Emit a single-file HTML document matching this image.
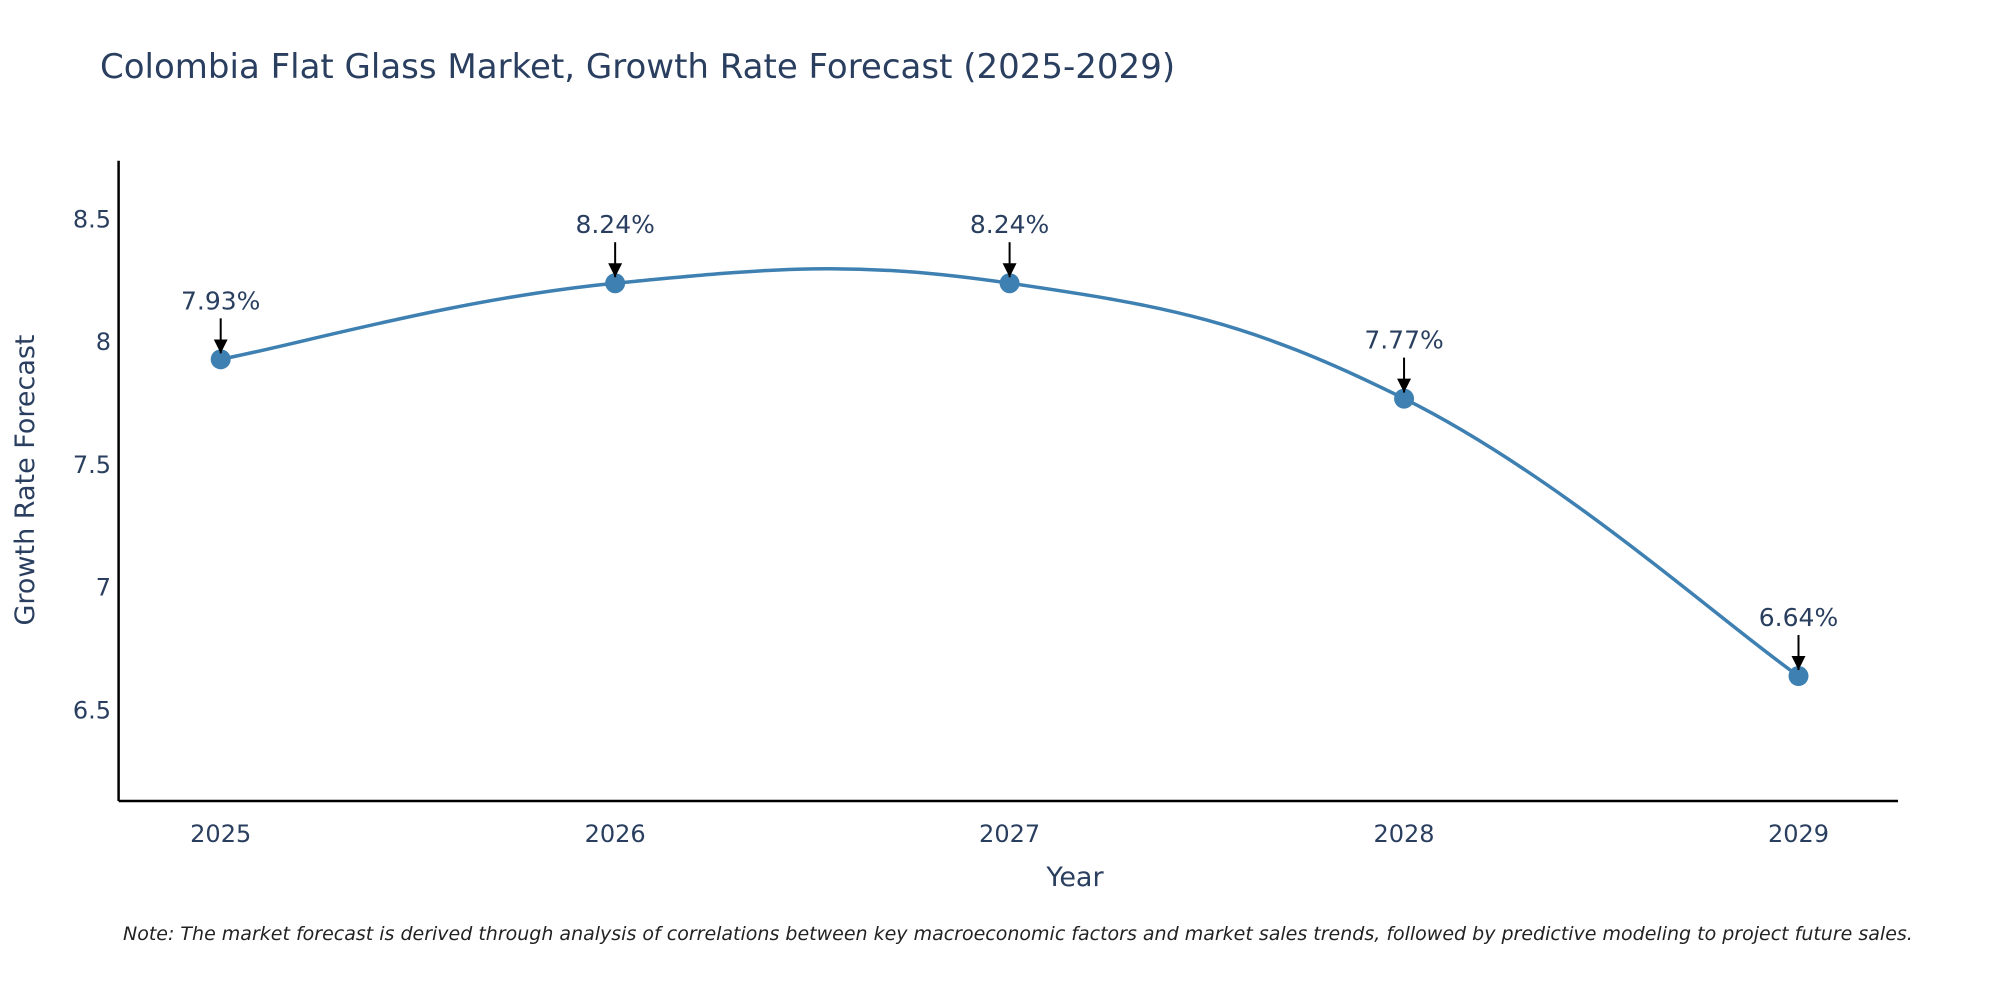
<!DOCTYPE html>
<html><head><meta charset="utf-8"><style>
html,body{margin:0;padding:0;background:#fff;}
svg{display:block;font-family:"DejaVu Sans","Liberation Sans",sans-serif;}
</style></head><body>
<svg id="chart" width="2000" height="1000">
<text x="100" y="78" font-size="34" fill="#2a3f5f">Colombia Flat Glass Market, Growth Rate Forecast (2025-2029)</text>
<g id="axes"></g>
<g id="series"></g>
<text x="1075" y="886" font-size="27" fill="#2a3f5f" text-anchor="middle">Year</text>
<text transform="translate(34,480) rotate(-90)" font-size="27" fill="#2a3f5f" text-anchor="middle">Growth Rate Forecast</text>
<text x="123" y="940" font-size="19" font-style="italic" fill="#222">Note: The market forecast is derived through analysis of correlations between key macroeconomic factors and market sales trends, followed by predictive modeling to project future sales.</text>
</svg>
<script>
const years = [2025, 2026, 2027, 2028, 2029];
const growth = [7.93, 8.24, 8.24, 7.77, 6.64];
const labels = ["7.93%", "8.24%", "8.24%", "7.77%", "6.64%"];
const yTicks = [6.5, 7, 7.5, 8, 8.5];
const yTickLabels = ["6.5", "7", "7.5", "8", "8.5"];

const NS = "http://www.w3.org/2000/svg";
const L = 118.6, R = 1898, T = 160.7, B = 801;
const yMin = 6.131, yMax = 8.739;
function xs(v){ return 220.7 + (v - 2025) * (1798.5 - 220.7) / 4; }
function ys(v){ return B - (v - yMin) / (yMax - yMin) * (B - T); }
function mk(tag, attrs, parent){ const e = document.createElementNS(NS, tag); for (const k in attrs) e.setAttribute(k, attrs[k]); parent.appendChild(e); return e; }

const axes = document.getElementById("axes");
const yl = mk("line", {x1:L, y1:T, x2:L, y2:B, stroke:"#000", "stroke-width":2.5}, axes);


const xl = mk("line", {x1:L, y1:B, x2:R, y2:B, stroke:"#000", "stroke-width":2.5}, axes);


yTicks.forEach((t, i) => {
  const e = mk("text", {x:111, y:ys(t) + 8, "font-size":24, fill:"#2a3f5f", "text-anchor":"end"}, axes);
  e.textContent = yTickLabels[i];
  
  
});
years.forEach(y => {
  const e = mk("text", {x:xs(y), y:B + 41, "font-size":24, fill:"#2a3f5f", "text-anchor":"middle"}, axes);
  e.textContent = String(y);
  
  
});

const g = document.getElementById("series");
const pts = years.map((y, i) => [xs(y), ys(growth[i])]);
let d = "M" + pts[0][0] + "," + pts[0][1];
for (let i = 0; i < pts.length - 1; i++) {
  const p0 = pts[Math.max(0, i - 1)], p1 = pts[i], p2 = pts[i + 1], p3 = pts[Math.min(pts.length - 1, i + 2)];
  const k = 1 / 5;
  const c1 = [p1[0] + (p2[0] - p0[0]) * k, p1[1] + (p2[1] - p0[1]) * k];
  const c2 = [p2[0] - (p3[0] - p1[0]) * k, p2[1] - (p3[1] - p1[1]) * k];
  d += " C" + c1.join(",") + " " + c2.join(",") + " " + p2.join(",");
}
const line = mk("path", {d:d, fill:"none", stroke:"#3d80b1", "stroke-width":3.5}, g);


mk("defs", {}, g).innerHTML = '<marker id="ah" viewBox="0 0 10 10" refX="10" refY="5" markerWidth="7" markerHeight="7" orient="auto"><path d="M0,0 L10,5 L0,10 z" fill="#000"/></marker>';
pts.forEach((p, i) => {
  const c = mk("circle", {cx:p[0], cy:p[1], r:10, fill:"#3d80b1"}, g);
  
  
  const a = mk("line", {x1:p[0], y1:p[1] - 41, x2:p[0], y2:p[1] - 6, stroke:"#000", "stroke-width":2, "marker-end":"url(#ah)"}, g);
  
  
  const t = mk("text", {x:p[0], y:p[1] - 50, "font-size":25, fill:"#2a3f5f", "text-anchor":"middle"}, g);
  t.textContent = labels[i];
  
  
});
</script>
</body></html>
